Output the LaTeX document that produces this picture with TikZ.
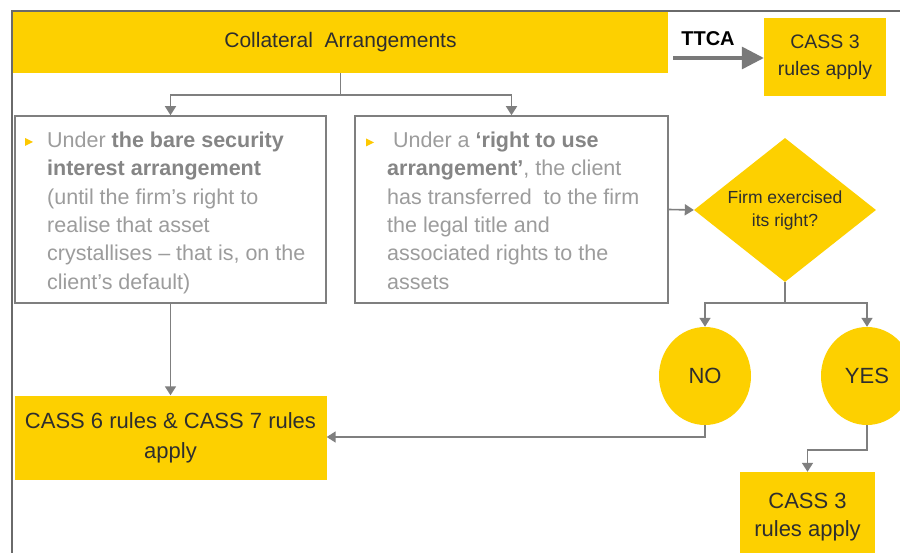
\documentclass[tikz,border=0pt]{standalone}
\usepackage{fontspec}
\setmainfont{Liberation Sans}
\usetikzlibrary{arrows.meta,shapes.geometric}

\definecolor{eyyellow}{HTML}{FDD000}
\definecolor{linegrey}{HTML}{7F7F7F}
\definecolor{framegrey}{HTML}{6A6A6A}
\definecolor{boxtext}{HTML}{9C9C9C}
\definecolor{boxbold}{HTML}{858585}
\definecolor{darktext}{HTML}{2E2E2E}

% bold, darker phrase inside the grey description boxes
\newcommand{\keyphrase}[1]{{\color{boxbold}\bfseries #1}}

\begin{document}
\begin{tikzpicture}[x=1pt,y=-1pt,
  ybox/.style={rectangle, fill=eyyellow, draw=none, inner sep=0pt,
               text=darktext, align=center},
  gbox/.style={rectangle, draw=linegrey, line width=1.6pt, fill=white, inner sep=0pt},
  boxtxt/.style={inner sep=0pt, align=left, text=boxtext,
                 font=\fontsize{21.5}{28.4}\selectfont},
  ball/.style={ellipse, fill=eyyellow, minimum width=92pt, minimum height=98pt,
               inner sep=0pt, text=darktext, font=\fontsize{22}{26}\selectfont},
  plainline/.style={draw=linegrey, line width=1.6pt},
  conn/.style={plainline, -{Triangle[length=9pt,width=11pt]}},
  bullet/.style={fill=eyyellow!90!orange}
]
\useasboundingbox (0,0) rectangle (900,553);
\fill[white] (0,0) rectangle (900,553);

% outer frame (left and top edges)
\draw[framegrey, line width=1.2pt] (12,553) -- (12,11) -- (900,11);

% title bar
\node[ybox, minimum width=655pt, minimum height=61pt,
      font=\fontsize{21}{25}\selectfont] (bar) at (340.5,42.5)
      {\raisebox{-2pt}{Collateral\ \ Arrangements}};

% TTCA branch
\node[ybox, minimum width=122pt, minimum height=78pt,
      font=\fontsize{19.5}{27}\selectfont] (cassA) at (825,57)
      {CASS 3\\rules apply};
\node[inner sep=0pt, font=\fontsize{20}{24}\bfseries, text=black] (ttca) at (708,38.5) {TTCA};
\coordinate (ttcastart) at (673,58);
\draw[draw=framegrey!90, line width=3.3pt, -{Triangle[length=22pt,width=22pt]}]
  (ttcastart) -- (cassA.west |- ttcastart);

% description boxes
\node[gbox, minimum width=311pt, minimum height=187pt] (lbox) at (170.5,209.5) {};
\node[gbox, minimum width=313pt, minimum height=187pt] (rbox) at (511.5,209.5) {};

\node[boxtxt, anchor=north west] (ltxt) at (47,131.5)
  {Under \keyphrase{the bare security}\\
   \keyphrase{interest arrangement}\\
   (until the firm’s right to\\
   realise that asset\\
   crystallises – that is, on the\\
   client’s default)};
\node[boxtxt, anchor=north west] (rtxt) at (387,131.5)
  {\hspace*{6pt}Under a \keyphrase{‘right to use}\\
   \keyphrase{arrangement’}, the client\\
   has transferred\ \ to the firm\\
   the legal title and\\
   associated rights to the\\
   assets};

% bullet markers
\fill[bullet] (25,138) -- (33,142) -- (25,146) -- cycle;
\fill[bullet] (366,138.5) -- (374,142.5) -- (366,146.5) -- cycle;

% decision
\node[diamond, aspect=1.26, fill=eyyellow, minimum width=182pt, minimum height=144pt,
      inner sep=0pt, text=darktext, align=center,
      font=\fontsize{17.5}{23}\selectfont] (dec) at (785,210)
      {\raisebox{-3pt}{Firm exercised}\\\raisebox{-3pt}{its right?}};

\node[ball] (no) at (705,376) {NO};
\node[ball] (yes) at (867,376) {YES};

% outcomes
\node[ybox, minimum width=312pt, minimum height=84pt,
      font=\fontsize{22}{30}\selectfont] (cass67) at (170.5,437.5)
      {CASS 6 rules \& CASS 7 rules\\apply};
\node[ybox, minimum width=135pt, minimum height=90pt,
      font=\fontsize{22}{28}\selectfont] (cassB) at (807.5,517)
      {CASS 3\\rules apply};

% connectors
\coordinate (split) at (340.5,95);
\draw[plainline] (bar.south -| split) -- (split);
\draw[conn] (split) -| (lbox.north);
\draw[conn] (split) -| (rbox.north);
\draw[conn] (rbox.east) -- (dec.west);

\coordinate (decsplit) at (785,303);
\draw[plainline] (dec.south) -- (decsplit);
\draw[conn] (decsplit) -| (no.north);
\draw[conn] (decsplit) -| (yes.north);

\draw[conn] (lbox.south) -- (cass67.north);
\coordinate (nobend) at (705,437);
\draw[conn] (no.south) -- (nobend) -- (cass67.east |- nobend);

\coordinate (yesbend) at (867,450);
\draw[conn] (yes.south) -- (yesbend) -| (cassB.north);
\end{tikzpicture}
\end{document}
